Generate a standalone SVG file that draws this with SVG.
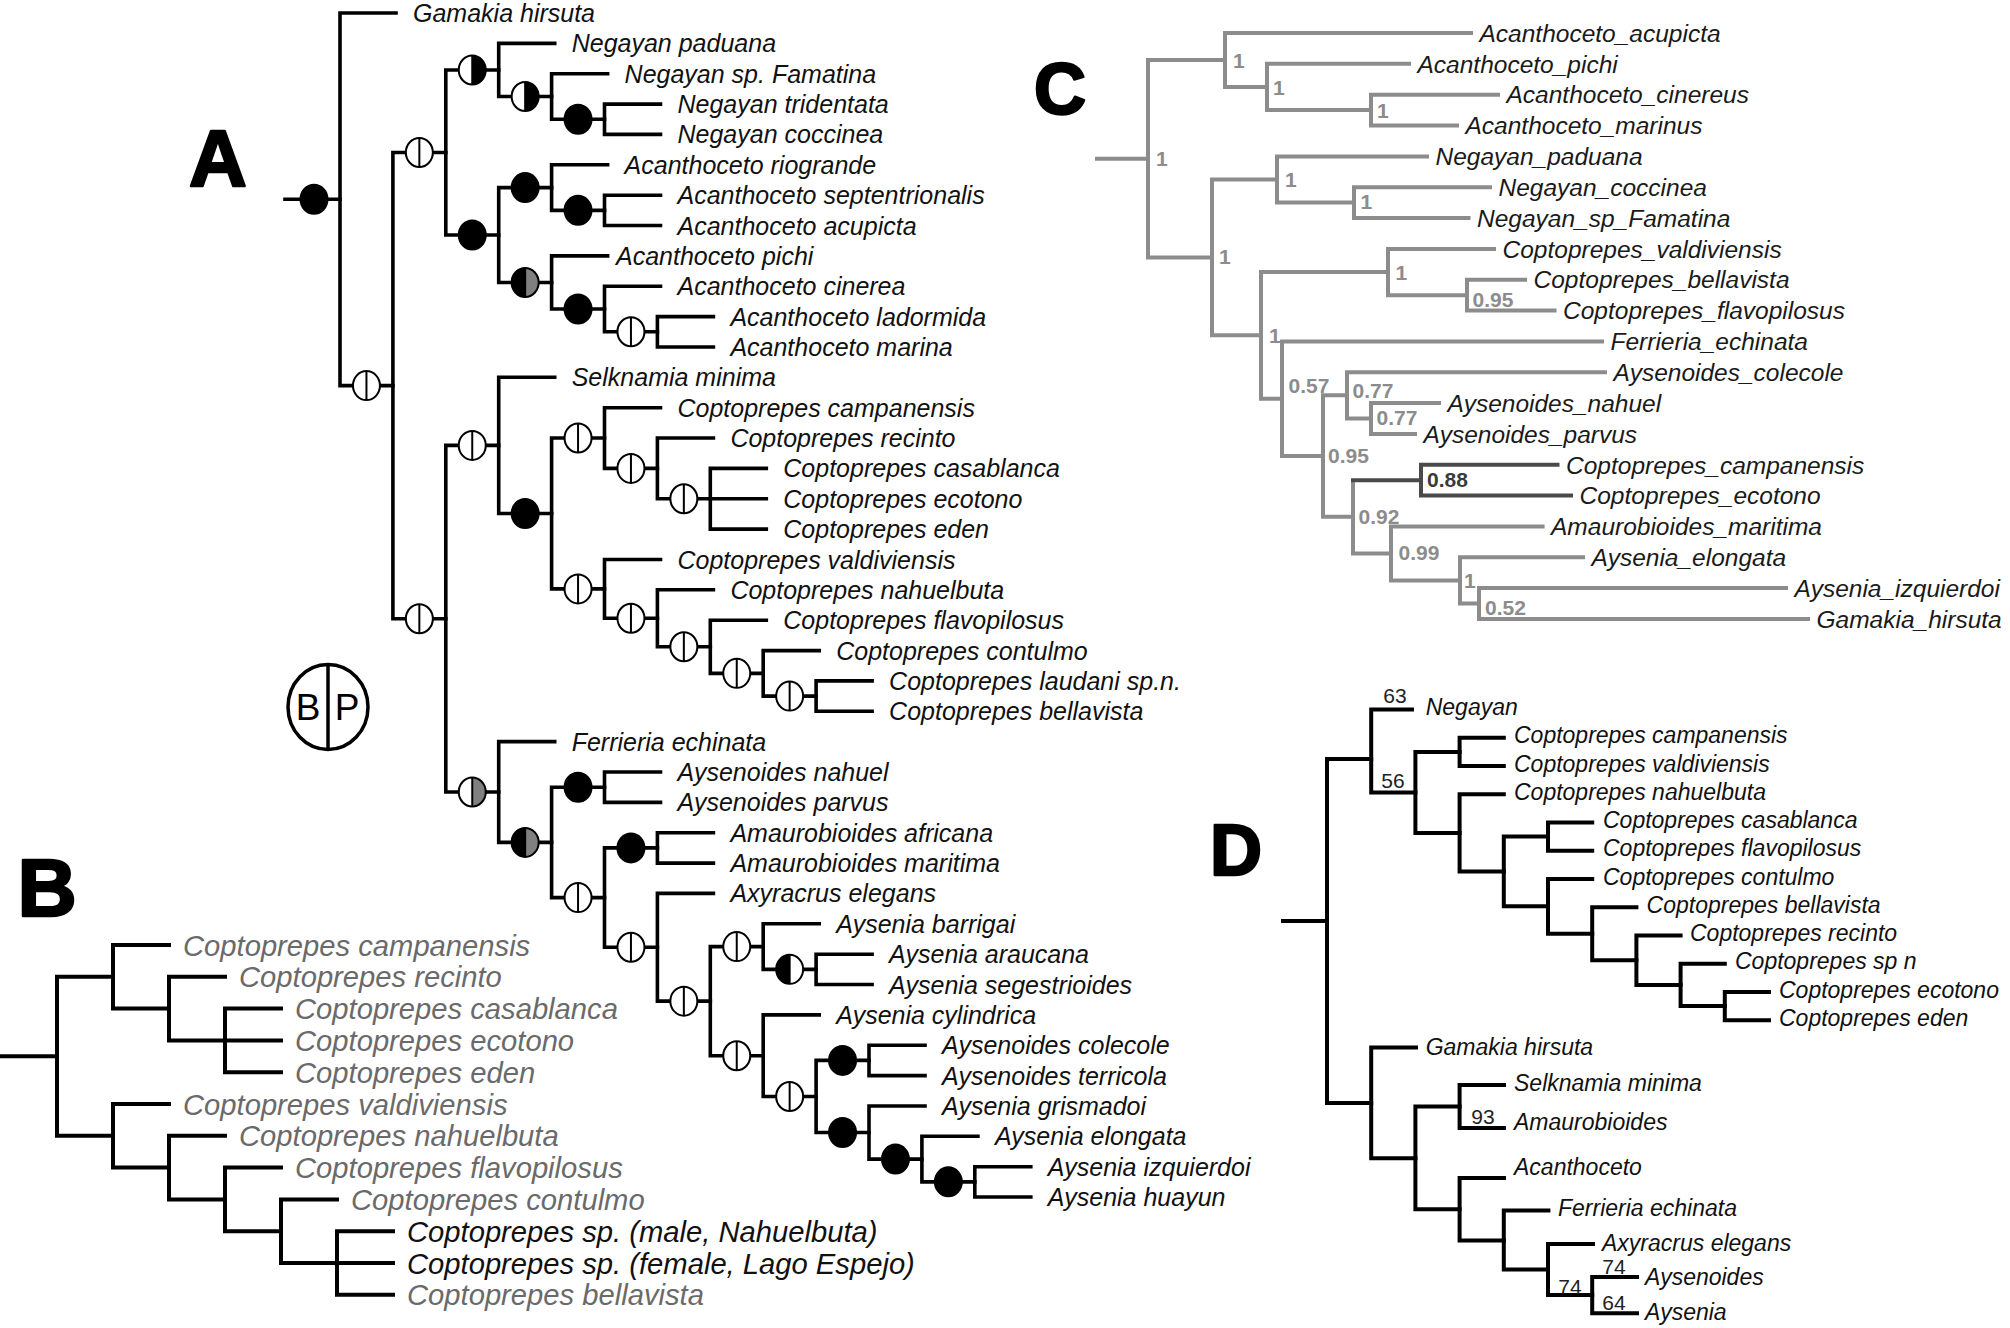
<svg xmlns="http://www.w3.org/2000/svg" width="2010" height="1328" viewBox="0 0 2010 1328">
<style>
.t{fill:none;stroke:#000;stroke-width:3.6;stroke-linecap:square}
.tc{fill:none;stroke:#8c8c8c;stroke-width:4;stroke-linecap:square}
.tcd{fill:none;stroke:#4a4a4a;stroke-width:4;stroke-linecap:square}
.la{font-family:"Liberation Sans",Arial,sans-serif;font-style:italic;font-size:25px;fill:#111}
.lb{font-family:"Liberation Sans",Arial,sans-serif;font-style:italic;font-size:29.2px;fill:#6a6a6a}
.lbk{fill:#111}
.lc{font-family:"Liberation Sans",Arial,sans-serif;font-style:italic;font-size:24.5px;fill:#1a1a1a}
.ld{font-family:"Liberation Sans",Arial,sans-serif;font-style:italic;font-size:23px;fill:#111}
.sc{font-family:"Liberation Sans",Arial,sans-serif;font-weight:bold;font-size:21px;fill:#8c8c8c}
.scd{fill:#3a3a3a}
.sd{font-family:"Liberation Sans",Arial,sans-serif;font-size:21px;fill:#222;text-anchor:middle}
.pl{font-family:"Liberation Sans",Arial,sans-serif;font-weight:bold;fill:#000;stroke:#000;stroke-width:2.5;stroke-linejoin:round;text-anchor:middle}
.bp{font-family:"Liberation Sans",Arial,sans-serif;font-size:37px;fill:#000;text-anchor:middle}
</style>
<defs>
<g id="m-open"><ellipse rx="13.5" ry="14.5" fill="#fff" stroke="#000" stroke-width="2"/><line x1="0" y1="-14.5" x2="0" y2="14.5" stroke="#000" stroke-width="2"/></g>
<g id="m-black"><ellipse rx="13.5" ry="14.5" fill="#000" stroke="#000" stroke-width="2"/></g>
<g id="m-wb"><ellipse rx="13.5" ry="14.5" fill="#fff"/><path d="M0,-14.5A13.5,14.5 0 0 1 0,14.5Z" fill="#000"/><ellipse rx="13.5" ry="14.5" fill="none" stroke="#000" stroke-width="2"/><line x1="0" y1="-14.5" x2="0" y2="14.5" stroke="#000" stroke-width="2"/></g>
<g id="m-bw"><ellipse rx="13.5" ry="14.5" fill="#fff"/><path d="M0,-14.5A13.5,14.5 0 0 0 0,14.5Z" fill="#000"/><ellipse rx="13.5" ry="14.5" fill="none" stroke="#000" stroke-width="2"/><line x1="0" y1="-14.5" x2="0" y2="14.5" stroke="#000" stroke-width="2"/></g>
<g id="m-wg"><ellipse rx="13.5" ry="14.5" fill="#fff"/><path d="M0,-14.5A13.5,14.5 0 0 1 0,14.5Z" fill="#808080"/><ellipse rx="13.5" ry="14.5" fill="none" stroke="#000" stroke-width="2"/><line x1="0" y1="-14.5" x2="0" y2="14.5" stroke="#000" stroke-width="2"/></g>
<g id="m-bg"><ellipse rx="13.5" ry="14.5" fill="#808080"/><path d="M0,-14.5A13.5,14.5 0 0 0 0,14.5Z" fill="#000"/><ellipse rx="13.5" ry="14.5" fill="none" stroke="#000" stroke-width="2"/><line x1="0" y1="-14.5" x2="0" y2="14.5" stroke="#000" stroke-width="2"/></g>
</defs>
<rect width="2010" height="1328" fill="#fff"/>

<!-- Panel letters -->
<g id="panel-letters">
<text class="pl" x="218" y="186" font-size="80">A</text>
<text class="pl" x="47" y="916" font-size="82">B</text>
<text class="pl" x="1060" y="114" font-size="72">C</text>
<text class="pl" x="1236" y="875" font-size="72">D</text>
</g>

<!-- ===== Panel A connectors ===== -->
<g id="A-connectors" class="t">
<path d="M285,199.3H340"/>
<path d="M340,13V385.6M340,13H396M340,385.6H392.9"/>
<path d="M392.9,152.5V618.7M392.9,152.5H445.8M392.9,618.7H445.8"/>
<path d="M445.8,69.95V235M445.8,69.95H498.7M445.8,235H498.7"/>
<path d="M498.7,43.4V96.5M498.7,43.4H554.7M498.7,96.5H551.6"/>
<path d="M551.6,73.7V119.25M551.6,73.7H607.6M551.6,119.25H604.5"/>
<path d="M604.5,104.1V134.4M604.5,104.1H660.5M604.5,134.4H660.5"/>
<path d="M498.7,187.6V282.45M498.7,187.6H551.6M498.7,282.45H551.6"/>
<path d="M551.6,164.8V210.35M551.6,164.8H607.6M551.6,210.35H604.5"/>
<path d="M604.5,195.2V225.5M604.5,195.2H660.5M604.5,225.5H660.5"/>
<path d="M551.6,255.9V309M551.6,255.9H607.6M551.6,309H604.5"/>
<path d="M604.5,286.2V331.8M604.5,286.2H660.5M604.5,331.8H657.4"/>
<path d="M657.4,316.6V347M657.4,316.6H713.4M657.4,347H713.4"/>
<path d="M445.8,445.4V792M445.8,445.4H498.7M445.8,792H498.7"/>
<path d="M498.7,377.3V513.45M498.7,377.3H554.7M498.7,513.45H551.6"/>
<path d="M551.6,438V588.9M551.6,438H604.5M551.6,588.9H604.5"/>
<path d="M604.5,407.7V468.4M604.5,407.7H660.5M604.5,468.4H657.4"/>
<path d="M657.4,438V498.75M657.4,438H713.4M657.4,498.75H710.3"/>
<path d="M710.3,468.4V529.1M710.3,468.4H766.3M710.3,498.8H766.3M710.3,529.1H766.3"/>
<path d="M604.5,559.5V618.3M604.5,559.5H660.5M604.5,618.3H657.4"/>
<path d="M657.4,589.8V646.8M657.4,589.8H713.4M657.4,646.8H710.3"/>
<path d="M710.3,620.2V673.35M710.3,620.2H766.3M710.3,673.35H763.2"/>
<path d="M763.2,650.6V696.1M763.2,650.6H819.2M763.2,696.1H816.1"/>
<path d="M816.1,680.9V711.3M816.1,680.9H872.1M816.1,711.3H872.1"/>
<path d="M498.7,741.6V842.4M498.7,741.6H554.7M498.7,842.4H551.6"/>
<path d="M551.6,787.2V897.6M551.6,787.2H604.5M551.6,897.6H604.5"/>
<path d="M604.5,772V802.4M604.5,772H660.5M604.5,802.4H660.5"/>
<path d="M604.5,847.9V947.3M604.5,847.9H657.4M604.5,947.3H657.4"/>
<path d="M657.4,832.7V863.1M657.4,832.7H713.4M657.4,863.1H713.4"/>
<path d="M657.4,893.4V1001.15M657.4,893.4H713.4M657.4,1001.15H710.3"/>
<path d="M710.3,946.6V1055.7M710.3,946.6H763.2M710.3,1055.7H763.2"/>
<path d="M763.2,923.8V969.35M763.2,923.8H819.2M763.2,969.35H816.1"/>
<path d="M816.1,954.2V984.5M816.1,954.2H872.1M816.1,984.5H872.1"/>
<path d="M763.2,1014.9V1096.5M763.2,1014.9H819.2M763.2,1096.5H816.1"/>
<path d="M816.1,1060.4V1132.55M816.1,1060.4H869M816.1,1132.55H869"/>
<path d="M869,1045.2V1075.6M869,1045.2H925M869,1075.6H925"/>
<path d="M869,1106V1159.1M869,1106H925M869,1159.1H921.9"/>
<path d="M921.9,1136.3V1181.85M921.9,1136.3H977.9M921.9,1181.85H974.8"/>
<path d="M974.8,1166.7V1197M974.8,1166.7H1030.8M974.8,1197H1030.8"/>
</g>

<!-- Panel A support markers -->
<g id="A-markers">
<use id="A-root" href="#m-black" x="314" y="199.3"/>
<use id="A-n2" href="#m-open" x="366.45" y="385.6"/>
<use id="A-n3" href="#m-open" x="419.35" y="152.5"/>
<use id="A-n4" href="#m-open" x="419.35" y="618.7"/>
<use id="A-n5" href="#m-wb" x="472.25" y="69.95"/>
<use id="A-n6" href="#m-black" x="472.25" y="235"/>
<use id="A-n14" href="#m-open" x="472.25" y="445.4"/>
<use id="A-n24" href="#m-wg" x="472.25" y="792"/>
<use id="A-n7" href="#m-wb" x="525.15" y="96.5"/>
<use id="A-n9" href="#m-black" x="525.15" y="187.6"/>
<use id="A-n10" href="#m-bg" x="525.15" y="282.45"/>
<use id="A-n15" href="#m-black" x="525.15" y="513.45"/>
<use id="A-n25" href="#m-bg" x="525.15" y="842.4"/>
<use id="A-n8" href="#m-black" x="578.05" y="119.25"/>
<use id="A-n11" href="#m-black" x="578.05" y="210.35"/>
<use id="A-n12" href="#m-black" x="578.05" y="309"/>
<use id="A-n16" href="#m-open" x="578.05" y="438"/>
<use id="A-n17" href="#m-open" x="578.05" y="588.9"/>
<use id="A-n26" href="#m-black" x="578.05" y="787.2"/>
<use id="A-n27" href="#m-open" x="578.05" y="897.6"/>
<use id="A-n13" href="#m-open" x="630.95" y="331.8"/>
<use id="A-n18" href="#m-open" x="630.95" y="468.4"/>
<use id="A-n20" href="#m-open" x="630.95" y="618.3"/>
<use id="A-n28" href="#m-black" x="630.95" y="847.9"/>
<use id="A-n29" href="#m-open" x="630.95" y="947.3"/>
<use id="A-n19" href="#m-open" x="683.85" y="498.75"/>
<use id="A-n21" href="#m-open" x="683.85" y="646.8"/>
<use id="A-n30" href="#m-open" x="683.85" y="1001.15"/>
<use id="A-n22" href="#m-open" x="736.75" y="673.35"/>
<use id="A-n31" href="#m-open" x="736.75" y="946.6"/>
<use id="A-n32" href="#m-open" x="736.75" y="1055.7"/>
<use id="A-n23" href="#m-open" x="789.65" y="696.1"/>
<use id="A-n33" href="#m-bw" x="789.65" y="969.35"/>
<use id="A-n34" href="#m-open" x="789.65" y="1096.5"/>
<use id="A-n35" href="#m-black" x="842.55" y="1060.4"/>
<use id="A-n36" href="#m-black" x="842.55" y="1132.55"/>
<use id="A-n37" href="#m-black" x="895.45" y="1159.1"/>
<use id="A-n38" href="#m-black" x="948.35" y="1181.85"/>
</g>

<!-- Legend -->
<g id="A-legend">
<ellipse cx="328" cy="707" rx="40" ry="42.5" fill="none" stroke="#000" stroke-width="3.5"/>
<line x1="328" y1="664.5" x2="328" y2="749.5" stroke="#000" stroke-width="3.5"/>
<text class="bp" x="308" y="720">B</text>
<text class="bp" x="347" y="720">P</text>
</g>

<!-- Panel A leaves -->
<g id="A-leaves" class="la">
<g id="A-gamakia-hirsuta"><text x="413" y="22">Gamakia hirsuta</text></g>
<g id="A-negayan-paduana"><text x="571.7" y="52.4">Negayan paduana</text></g>
<g id="A-negayan-famatina"><text x="624.6" y="82.7">Negayan sp. Famatina</text></g>
<g id="A-negayan-tridentata"><text x="677.5" y="113.1">Negayan tridentata</text></g>
<g id="A-negayan-coccinea"><text x="677.5" y="143.4">Negayan coccinea</text></g>
<g id="A-acanthoceto-riogrande"><text x="624.6" y="173.8">Acanthoceto riogrande</text></g>
<g id="A-acanthoceto-septentrionalis"><text x="677.5" y="204.2">Acanthoceto septentrionalis</text></g>
<g id="A-acanthoceto-acupicta"><text x="677.5" y="234.5">Acanthoceto acupicta</text></g>
<g id="A-acanthoceto-pichi"><text x="616" y="264.9">Acanthoceto pichi</text></g>
<g id="A-acanthoceto-cinerea"><text x="677.5" y="295.2">Acanthoceto cinerea</text></g>
<g id="A-acanthoceto-ladormida"><text x="730.4" y="325.6">Acanthoceto ladormida</text></g>
<g id="A-acanthoceto-marina"><text x="730.4" y="356">Acanthoceto marina</text></g>
<g id="A-selknamia-minima"><text x="571.7" y="386.3">Selknamia minima</text></g>
<g id="A-coptoprepes-campanensis"><text x="677.5" y="416.7">Coptoprepes campanensis</text></g>
<g id="A-coptoprepes-recinto"><text x="730.4" y="447">Coptoprepes recinto</text></g>
<g id="A-coptoprepes-casablanca"><text x="783.3" y="477.4">Coptoprepes casablanca</text></g>
<g id="A-coptoprepes-ecotono"><text x="783.3" y="507.8">Coptoprepes ecotono</text></g>
<g id="A-coptoprepes-eden"><text x="783.3" y="538.1">Coptoprepes eden</text></g>
<g id="A-coptoprepes-valdiviensis"><text x="677.5" y="568.5">Coptoprepes valdiviensis</text></g>
<g id="A-coptoprepes-nahuelbuta"><text x="730.4" y="598.8">Coptoprepes nahuelbuta</text></g>
<g id="A-coptoprepes-flavopilosus"><text x="783.3" y="629.2">Coptoprepes flavopilosus</text></g>
<g id="A-coptoprepes-contulmo"><text x="836.2" y="659.6">Coptoprepes contulmo</text></g>
<g id="A-coptoprepes-laudani"><text x="889.1" y="689.9">Coptoprepes laudani sp.n.</text></g>
<g id="A-coptoprepes-bellavista"><text x="889.1" y="720.3">Coptoprepes bellavista</text></g>
<g id="A-ferrieria-echinata"><text x="571.7" y="750.6">Ferrieria echinata</text></g>
<g id="A-aysenoides-nahuel"><text x="677.5" y="781">Aysenoides nahuel</text></g>
<g id="A-aysenoides-parvus"><text x="677.5" y="811.4">Aysenoides parvus</text></g>
<g id="A-amaurobioides-africana"><text x="730.4" y="841.7">Amaurobioides africana</text></g>
<g id="A-amaurobioides-maritima"><text x="730.4" y="872.1">Amaurobioides maritima</text></g>
<g id="A-axyracrus-elegans"><text x="730.4" y="902.4">Axyracrus elegans</text></g>
<g id="A-aysenia-barrigai"><text x="836.2" y="932.8">Aysenia barrigai</text></g>
<g id="A-aysenia-araucana"><text x="889.1" y="963.2">Aysenia araucana</text></g>
<g id="A-aysenia-segestrioides"><text x="889.1" y="993.5">Aysenia segestrioides</text></g>
<g id="A-aysenia-cylindrica"><text x="836.2" y="1023.9">Aysenia cylindrica</text></g>
<g id="A-aysenoides-colecole"><text x="942" y="1054.2">Aysenoides colecole</text></g>
<g id="A-aysenoides-terricola"><text x="942" y="1084.6">Aysenoides terricola</text></g>
<g id="A-aysenia-grismadoi"><text x="942" y="1115">Aysenia grismadoi</text></g>
<g id="A-aysenia-elongata"><text x="994.9" y="1145.3">Aysenia elongata</text></g>
<g id="A-aysenia-izquierdoi"><text x="1047.8" y="1175.7">Aysenia izquierdoi</text></g>
<g id="A-aysenia-huayun"><text x="1047.8" y="1206">Aysenia huayun</text></g>
</g>

<!-- ===== Panel B ===== -->
<g id="B-connectors" class="t" style="stroke-width:4">
<path d="M0,1056.3H57"/>
<path d="M57,976.8V1135.8M57,976.8H113M57,1135.8H113"/>
<path d="M113,945V1008.6M113,945H169M113,1008.6H169"/>
<path d="M169,976.8V1040.4M169,976.8H225M169,1040.4H225"/>
<path d="M225,1008.6V1072.2M225,1008.6H281M225,1040.4H281M225,1072.2H281"/>
<path d="M113,1104V1167.6M113,1104H169M113,1167.6H169"/>
<path d="M169,1135.8V1199.4M169,1135.8H225M169,1199.4H225"/>
<path d="M225,1167.6V1231.2M225,1167.6H281M225,1231.2H281"/>
<path d="M281,1199.4V1263M281,1199.4H337M281,1263H337"/>
<path d="M337,1231.2V1294.8M337,1231.2H393M337,1263H393M337,1294.8H393"/>
</g>
<g id="B-leaves" class="lb">
<g id="B-campanensis"><text x="183" y="955.5">Coptoprepes campanensis</text></g>
<g id="B-recinto"><text x="239" y="987.3">Coptoprepes recinto</text></g>
<g id="B-casablanca"><text x="295" y="1019.1">Coptoprepes casablanca</text></g>
<g id="B-ecotono"><text x="295" y="1050.9">Coptoprepes ecotono</text></g>
<g id="B-eden"><text x="295" y="1082.7">Coptoprepes eden</text></g>
<g id="B-valdiviensis"><text x="183" y="1114.5">Coptoprepes valdiviensis</text></g>
<g id="B-nahuelbuta"><text x="239" y="1146.3">Coptoprepes nahuelbuta</text></g>
<g id="B-flavopilosus"><text x="295" y="1178.1">Coptoprepes flavopilosus</text></g>
<g id="B-contulmo"><text x="351" y="1209.9">Coptoprepes contulmo</text></g>
<g id="B-sp-male"><text class="lbk" x="407" y="1241.7">Coptoprepes sp. (male, Nahuelbuta)</text></g>
<g id="B-sp-female"><text class="lbk" x="407" y="1273.5">Coptoprepes sp. (female, Lago Espejo)</text></g>
<g id="B-bellavista"><text x="407" y="1305.3">Coptoprepes bellavista</text></g>
</g>

<!-- ===== Panel C ===== -->
<g id="C-connectors">
<g class="tc">
<path d="M1097,158.7H1148"/>
<path d="M1148,60V257.4M1148,60H1225M1148,257.4H1212"/>
<path d="M1225,33V87M1225,33H1471M1225,87H1267"/>
<path d="M1267,63.8V110.1M1267,63.8H1409M1267,110.1H1371"/>
<path d="M1371,94.7V125.5M1371,94.7H1498M1371,125.5H1457"/>
<path d="M1212,179.5V335.3M1212,179.5H1277M1212,335.3H1261"/>
<path d="M1277,156.4V202.6M1277,156.4H1427M1277,202.6H1354"/>
<path d="M1354,187.2V218M1354,187.2H1490M1354,218H1468.5"/>
<path d="M1261,272V398.7M1261,272H1388M1261,398.7H1282"/>
<path d="M1388,248.9V295.2M1388,248.9H1494M1388,295.2H1467"/>
<path d="M1467,279.7V310.6M1467,279.7H1525M1467,310.6H1554.5"/>
<path d="M1282,341.4V456M1282,341.4H1602M1282,456H1323"/>
<path d="M1323,395.3V516.8M1323,395.3H1347M1323,516.8H1353"/>
<path d="M1347,372.2V418.5M1347,372.2H1605M1347,418.5H1371"/>
<path d="M1371,403.1V433.9M1371,403.1H1439M1371,433.9H1415"/>
<path d="M1353,482V553.4M1353,553.4H1391"/>
<path d="M1391,526.4V580.4M1391,526.4H1542.6M1391,580.4H1460"/>
<path d="M1460,557.3V603.6M1460,557.3H1583M1460,603.6H1479"/>
<path d="M1479,588.1V619M1479,588.1H1786M1479,619H1808"/>
</g>
<g class="tcd">
<path d="M1353,480.2H1421"/>
<path d="M1421,464.8V495.6M1421,464.8H1557.5M1421,495.6H1571"/>
</g>
</g>
<g id="C-support">
<text class="sc" x="1156" y="166">1</text>
<text class="sc" x="1233" y="67.5">1</text>
<text class="sc" x="1273" y="95">1</text>
<text class="sc" x="1377" y="117.5">1</text>
<text class="sc" x="1219" y="264">1</text>
<text class="sc" x="1285" y="187">1</text>
<text class="sc" x="1360.5" y="209">1</text>
<text class="sc" x="1395.5" y="280">1</text>
<text class="sc" x="1472.5" y="307">0.95</text>
<text class="sc" x="1269" y="342.5">1</text>
<text class="sc" x="1288.5" y="392.5">0.57</text>
<text class="sc" x="1352.5" y="397.5">0.77</text>
<text class="sc" x="1376.5" y="425">0.77</text>
<text class="sc" x="1328" y="462.5">0.95</text>
<text class="sc scd" x="1427" y="487">0.88</text>
<text class="sc" x="1358.5" y="523.5">0.92</text>
<text class="sc" x="1398.5" y="560">0.99</text>
<text class="sc" x="1464" y="587.5">1</text>
<text class="sc" x="1485" y="615">0.52</text>
</g>
<g id="C-leaves" class="lc">
<g id="C-acanthoceto-acupicta"><text x="1479.5" y="41.7">Acanthoceto_acupicta</text></g>
<g id="C-acanthoceto-pichi"><text x="1417.5" y="72.5">Acanthoceto_pichi</text></g>
<g id="C-acanthoceto-cinereus"><text x="1506.5" y="103.4">Acanthoceto_cinereus</text></g>
<g id="C-acanthoceto-marinus"><text x="1465.5" y="134.2">Acanthoceto_marinus</text></g>
<g id="C-negayan-paduana"><text x="1435.5" y="165.1">Negayan_paduana</text></g>
<g id="C-negayan-coccinea"><text x="1498.5" y="195.9">Negayan_coccinea</text></g>
<g id="C-negayan-famatina"><text x="1477" y="226.7">Negayan_sp_Famatina</text></g>
<g id="C-coptoprepes-valdiviensis"><text x="1502.5" y="257.6">Coptoprepes_valdiviensis</text></g>
<g id="C-coptoprepes-bellavista"><text x="1533.5" y="288.4">Coptoprepes_bellavista</text></g>
<g id="C-coptoprepes-flavopilosus"><text x="1563" y="319.3">Coptoprepes_flavopilosus</text></g>
<g id="C-ferrieria-echinata"><text x="1610.5" y="350.1">Ferrieria_echinata</text></g>
<g id="C-aysenoides-colecole"><text x="1613.5" y="380.9">Aysenoides_colecole</text></g>
<g id="C-aysenoides-nahuel"><text x="1447.5" y="411.8">Aysenoides_nahuel</text></g>
<g id="C-aysenoides-parvus"><text x="1423.5" y="442.6">Aysenoides_parvus</text></g>
<g id="C-coptoprepes-campanensis"><text x="1566" y="473.5">Coptoprepes_campanensis</text></g>
<g id="C-coptoprepes-ecotono"><text x="1579.5" y="504.3">Coptoprepes_ecotono</text></g>
<g id="C-amaurobioides-maritima"><text x="1551" y="535.1">Amaurobioides_maritima</text></g>
<g id="C-aysenia-elongata"><text x="1591.5" y="566">Aysenia_elongata</text></g>
<g id="C-aysenia-izquierdoi"><text x="1794.5" y="596.8">Aysenia_izquierdoi</text></g>
<g id="C-gamakia-hirsuta"><text x="1816.5" y="627.7">Gamakia_hirsuta</text></g>
</g>

<!-- ===== Panel D ===== -->
<g id="D-connectors" class="t" style="stroke-width:4">
<path d="M1283,921H1327"/>
<path d="M1327,759V1102.9M1327,759H1371.2M1327,1102.9H1371.2"/>
<path d="M1371.2,709.5V792.4M1371.2,709.5H1412M1371.2,792.4H1415.4"/>
<path d="M1415.4,751.9V832.9M1415.4,751.9H1459.6M1415.4,832.9H1459.6"/>
<path d="M1459.6,737.75V766M1459.6,737.75H1503.8M1459.6,766H1503.8"/>
<path d="M1459.6,794.25V871.5M1459.6,794.25H1503.8M1459.6,871.5H1503.8"/>
<path d="M1503.8,836.6V906.35M1503.8,836.6H1548M1503.8,906.35H1548"/>
<path d="M1548,822.5V850.75M1548,822.5H1592.2M1548,850.75H1592.2"/>
<path d="M1548,879V933.7M1548,879H1592.2M1548,933.7H1592.2"/>
<path d="M1592.2,907.25V960.2M1592.2,907.25H1636.4M1592.2,960.2H1636.4"/>
<path d="M1636.4,935.5V984.9M1636.4,935.5H1680.6M1636.4,984.9H1680.6"/>
<path d="M1680.6,963.75V1006.1M1680.6,963.75H1724.8M1680.6,1006.1H1724.8"/>
<path d="M1724.8,992V1020.25M1724.8,992H1769M1724.8,1020.25H1769"/>
<path d="M1371.2,1047.5V1158.25M1371.2,1047.5H1416M1371.2,1158.25H1415.4"/>
<path d="M1415.4,1106.5V1209.25M1415.4,1106.5H1459.6M1415.4,1209.25H1459.6"/>
<path d="M1459.6,1085V1128M1459.6,1085H1504M1459.6,1128H1504"/>
<path d="M1459.6,1178V1240.5M1459.6,1178H1504M1459.6,1240.5H1503.8"/>
<path d="M1503.8,1210.5V1269.5M1503.8,1210.5H1548.4M1503.8,1269.5H1548"/>
<path d="M1548,1244V1295M1548,1244H1593M1548,1295H1592.2"/>
<path d="M1592.2,1277V1313.3M1592.2,1277H1637M1592.2,1313.3H1637"/>
</g>
<g id="D-support">
<text class="sd" x="1395" y="703">63</text>
<text class="sd" x="1393" y="787.5">56</text>
<text class="sd" x="1483" y="1124">93</text>
<text class="sd" x="1614" y="1274">74</text>
<text class="sd" x="1570" y="1294">74</text>
<text class="sd" x="1614" y="1310">64</text>
</g>
<g id="D-leaves" class="ld">
<g id="D-negayan"><text x="1425.7" y="715">Negayan</text></g>
<g id="D-coptoprepes-campanensis"><text x="1514" y="743.2">Coptoprepes campanensis</text></g>
<g id="D-coptoprepes-valdiviensis"><text x="1514" y="771.5">Coptoprepes valdiviensis</text></g>
<g id="D-coptoprepes-nahuelbuta"><text x="1514" y="799.7">Coptoprepes nahuelbuta</text></g>
<g id="D-coptoprepes-casablanca"><text x="1603" y="828">Coptoprepes casablanca</text></g>
<g id="D-coptoprepes-flavopilosus"><text x="1603" y="856.2">Coptoprepes flavopilosus</text></g>
<g id="D-coptoprepes-contulmo"><text x="1603" y="884.5">Coptoprepes contulmo</text></g>
<g id="D-coptoprepes-bellavista"><text x="1646.6" y="912.7">Coptoprepes bellavista</text></g>
<g id="D-coptoprepes-recinto"><text x="1690" y="941">Coptoprepes recinto</text></g>
<g id="D-coptoprepes-sp-n"><text x="1735" y="969.2">Coptoprepes sp n</text></g>
<g id="D-coptoprepes-ecotono"><text x="1779" y="997.5">Coptoprepes ecotono</text></g>
<g id="D-coptoprepes-eden"><text x="1779" y="1025.7">Coptoprepes eden</text></g>
<g id="D-gamakia-hirsuta"><text x="1425.7" y="1055">Gamakia hirsuta</text></g>
<g id="D-selknamia-minima"><text x="1514" y="1091.3">Selknamia minima</text></g>
<g id="D-amaurobioides"><text x="1514" y="1130">Amaurobioides</text></g>
<g id="D-acanthoceto"><text x="1514" y="1175">Acanthoceto</text></g>
<g id="D-ferrieria-echinata"><text x="1558" y="1216.3">Ferrieria echinata</text></g>
<g id="D-axyracrus-elegans"><text x="1602" y="1251">Axyracrus elegans</text></g>
<g id="D-aysenoides"><text x="1645" y="1285">Aysenoides</text></g>
<g id="D-aysenia"><text x="1645" y="1320">Aysenia</text></g>
</g>
</svg>
